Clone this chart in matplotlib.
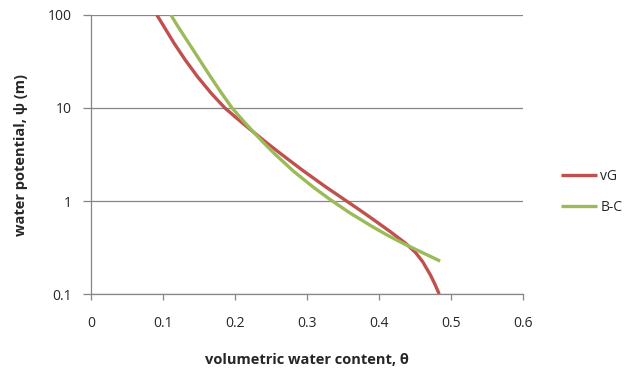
import matplotlib
matplotlib.use("Agg")
import matplotlib.pyplot as plt
from matplotlib.ticker import FixedLocator, FixedFormatter, NullLocator

plt.rcParams["font.family"] = ["Open Sans", "DejaVu Sans"]

# vG (van Genuchten) curve
vg_theta = [0.0915, 0.1015, 0.1155, 0.131, 0.148, 0.167, 0.186, 0.2057,
            0.2245, 0.2445, 0.2627, 0.2935, 0.3254, 0.3549, 0.3733, 0.3931,
            0.4154, 0.437, 0.4507, 0.4608, 0.4715, 0.478, 0.4836]
vg_psi = [100, 74.8, 49.6, 32.8, 21.7, 14.4, 10, 7.4,
          5.6, 4.2, 3.26, 2.15, 1.43, 1.0, 0.80, 0.625,
          0.47, 0.351, 0.28, 0.222, 0.16, 0.126, 0.1]

# B-C (Brooks-Corey) curve
bc_theta = [0.111, 0.121, 0.136, 0.151, 0.166, 0.1815, 0.196, 0.210,
            0.2249, 0.2389, 0.2543, 0.281, 0.3077, 0.3312, 0.3578, 0.3891,
            0.4114, 0.4334, 0.4623, 0.485]
bc_psi = [100, 74.8, 49.6, 32.8, 21.7, 14.4, 10, 7.5,
          5.6, 4.3, 3.26, 2.1, 1.43, 1.05, 0.76, 0.54,
          0.43, 0.351, 0.274, 0.226]

x_ticks = [0, 0.1, 0.2, 0.3, 0.4, 0.5, 0.6]
y_ticks = [0.1, 1, 10, 100]
y_labels = ["0.1", "1", "10", "100"]

fig = plt.figure(figsize=(6.3, 3.71), dpi=100)
ax = fig.add_axes([0.1444, 0.2075, 0.6857, 0.7521])

ax.plot(vg_theta, vg_psi, color="#C0504D", lw=2.4, label="vG",
        solid_capstyle="butt", solid_joinstyle="round")
ax.plot(bc_theta, bc_psi, color="#9BBB59", lw=2.4, label="B-C",
        solid_capstyle="butt", solid_joinstyle="round")

ax.set_yscale("log")
ax.set_xlim(0, 0.6)
ax.set_ylim(0.1, 100)
ax.yaxis.set_major_locator(FixedLocator(y_ticks))
ax.yaxis.set_major_formatter(FixedFormatter(y_labels))
ax.yaxis.set_minor_locator(NullLocator())
ax.set_xticks(x_ticks)
ax.set_xticklabels(["0", "0.1", "0.2", "0.3", "0.4", "0.5", "0.6"])

ax.grid(axis="y", color="#868686", lw=0.9)
ax.set_axisbelow(True)
for s in ["top", "right"]:
    ax.spines[s].set_visible(False)
for s in ["left", "bottom"]:
    ax.spines[s].set_color("#868686")
    ax.spines[s].set_linewidth(0.9)

ax.tick_params(axis="x", direction="out", length=4, width=0.9,
               color="#868686", pad=12, labelsize=10, labelcolor="#262626")
ax.tick_params(axis="y", direction="out", length=6, width=0.9,
               color="#868686", pad=8, labelsize=10, labelcolor="#262626")

ax.set_xlabel("volumetric water content, θ", fontsize=10.5,
              fontweight="bold", color="#262626", labelpad=16)
ax.set_ylabel("water potential, ψ (m)", fontsize=10.5,
              fontweight="bold", color="#262626", labelpad=14)

leg = ax.legend(loc="center left", bbox_to_anchor=(1.06, 0.366), frameon=False,
                fontsize=10, handlelength=2.6, handletextpad=0.2,
                labelspacing=1.1)
for t in leg.get_texts():
    t.set_color("#262626")

fig.savefig("out.png", dpi=100)
